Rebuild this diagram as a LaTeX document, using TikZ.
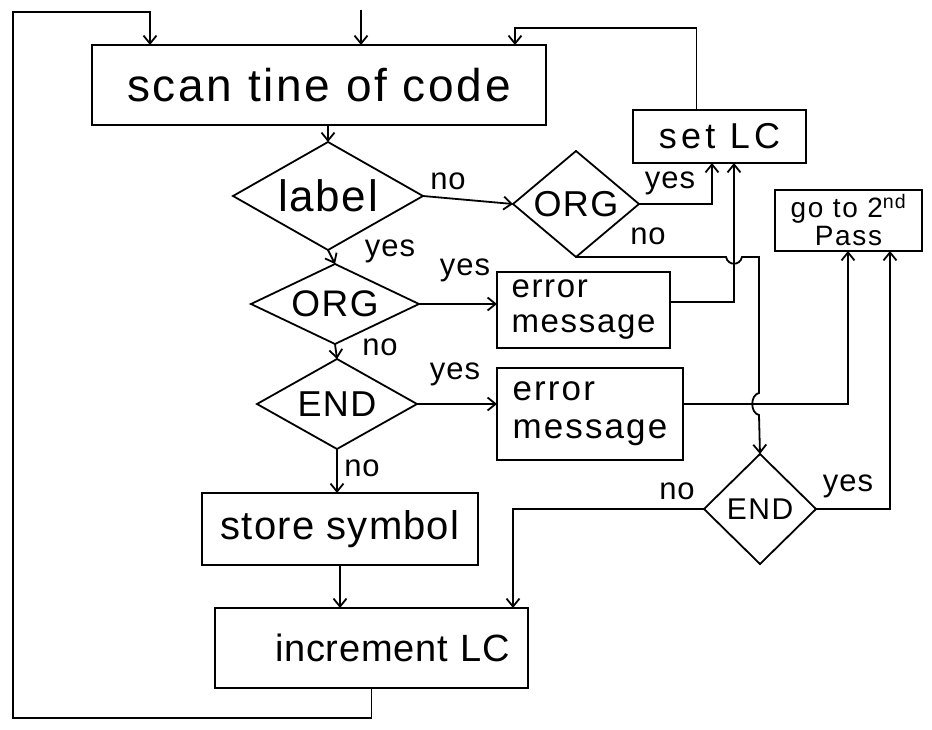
\documentclass[tikz,border=0pt]{standalone}
\usepackage{fontspec}
\setmainfont{Liberation Sans}
\usetikzlibrary{shapes.geometric,arrows.meta}
\newcommand{\fsz}[2]{\fontsize{#1}{#1}\selectfont\addfontfeature{LetterSpace=#2}}
\begin{document}
\begin{tikzpicture}[x=1pt,y=-1pt,
  every node/.style={inner sep=0pt, outer sep=0pt},
  box/.style={draw, line width=1.8pt, rectangle, align=center},
  dia/.style={draw, line width=1.8pt, diamond},
  arr/.style={line width=1.8pt, -{Straight Barb[length=8pt,width=13pt]}},
  lab/.style={font=\fsz{31}{3}},
  ]
\fill[white] (0,0) rectangle (932,730);
\useasboundingbox (0,0) rectangle (932,730);

% boxes
\node[box, minimum width=454pt, minimum height=80pt, font=\fsz{46}{6}] (scan) at (319,85) {scan tine of code};
\node[box, minimum width=173pt, minimum height=53pt, font=\fsz{36}{12}] (setlc) at (719.5,136.5) {set LC};
\node[box, minimum width=147pt, minimum height=61pt, font={\fontsize{28}{28}\selectfont\addfontfeature{LetterSpace=6}}] (pass2) at (848.5,220.5) {go to 2\textsuperscript{nd}\\Pass};
\node[box, align=left, minimum width=173pt, minimum height=76pt, font={\fontsize{33}{35}\selectfont\addfontfeature{LetterSpace=5}}] (err1) at (583.5,310) {error\\message};
\node[box, align=left, minimum width=186pt, minimum height=92pt, font={\fontsize{35}{38}\selectfont\addfontfeature{LetterSpace=6}}] (err2) at (590,414) {error\\message};
\node[box, minimum width=276pt, minimum height=72pt, font=\fsz{40}{3}] (store) at (340,529) {store symbol};
\node[box, align=right, text width=277pt, inner xsep=18pt, minimum height=80pt, font=\fsz{38}{2}] (inc) at (371.5,648) {increment LC};

% diamonds
\node[dia, aspect=1.74, minimum width=190pt, minimum height=108pt, font=\fsz{44}{4}] (label) at (328,196) {label};
\node[dia, aspect=1.19, minimum width=126pt, minimum height=106pt, font=\fsz{36}{4}] (org1) at (576,204) {ORG};
\node[dia, aspect=2.1, minimum width=168pt, minimum height=80pt, font=\fsz{37}{4}] (org2) at (335,304) {ORG};
\node[dia, aspect=1.8, minimum width=160pt, minimum height=90pt, font=\fsz{36}{4}] (end1) at (337,404) {END};
\node[dia, aspect=1.02, minimum width=112pt, minimum height=110pt, font=\fsz{30}{5}] (end2) at (760,509) {END};

% labels
\node[lab] (n1) at (448,181) {no};
\node[lab] (y1) at (390,251) {yes};
\node[lab] (y2) at (670,183) {yes};
\node[lab] (n2) at (648,236) {no};
\node[lab] (y3) at (465,270) {yes};
\node[lab] (n3) at (380,347) {no};
\node[lab] (y4) at (455,374) {yes};
\node[lab] (n4) at (362,468) {no};
\node[lab] (n5) at (677,491) {no};
\node[lab] (y5) at (848,486) {yes};

% helper coordinates
\coordinate (topin) at (361,10);
\coordinate (lb) at (13,718);
\coordinate (lt) at (150,12);
\coordinate (st) at (515,28);
\coordinate (oyx) at (712,0);
\coordinate (e1x) at (734,0);
\coordinate (p2a) at (848,0);
\coordinate (p2b) at (890,0);
\coordinate (nx) at (513,0);

% connectors
\draw[arr] (topin) -- (topin |- scan.north);
\draw[arr] (inc.south) |- (lb) |- (lt) -- (lt |- scan.north);
\draw[arr] ([xshift=-23pt]setlc.north) |- (st) -- (st |- scan.north);
\draw[arr] (label.north |- scan.south) -- (label.north);
\draw[arr] (label.east) -- (org1.west);
\draw[arr] (label.south) -- (org2.north);
\draw[arr] (org1.east) -| (oyx |- setlc.south);
\draw[arr] ([yshift=8pt]err1.east) -| (e1x |- setlc.south);
\draw[arr] (org1.south) -- (726,257) .. controls (728,266) and (740,266) .. (742,257)
  -- (759,257) -- (759,393) .. controls (750,395) and (750,413) .. (759,415) -- (end2.north);
\draw[arr] (org2.east) -- (org2.east -| err1.west);
\draw[arr] (org2.south) -- (end1.north);
\draw[arr] (end1.east) -- (end1.east -| err2.west);
\draw[arr] (end1.east -| err2.east) -- (p2a |- end1.east) -- (p2a |- pass2.south);
\draw[arr] (end2.east) -| (p2b |- pass2.south);
\draw[arr] (end2.west) -| (nx |- inc.north);
\draw[arr] (end1.south) -- (end1.south |- store.north);
\draw[arr] (store.south) -- (store.south |- inc.north);
\end{tikzpicture}
\end{document}
